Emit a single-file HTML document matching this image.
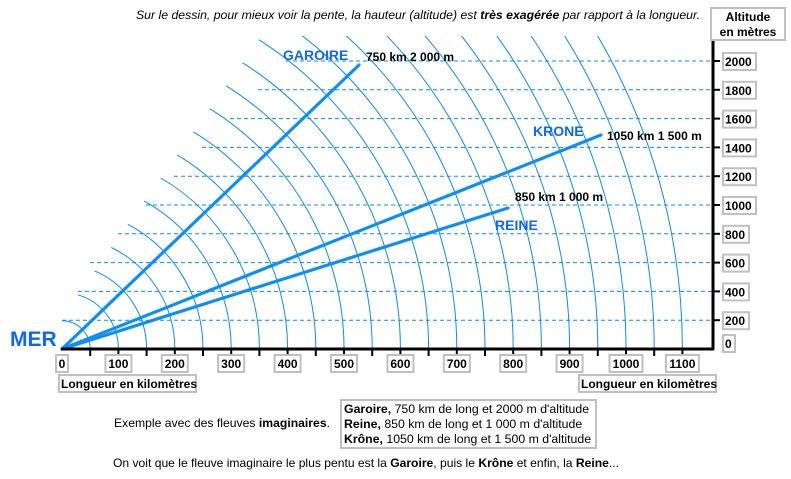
<!DOCTYPE html>
<html><head><meta charset="utf-8"><style>
body{margin:0;background:#fff;}
svg{display:block;font-family:"Liberation Sans",Arial,sans-serif;}
</style></head><body>
<svg id="s" width="791" height="479" xmlns="http://www.w3.org/2000/svg">
<defs><clipPath id="c"><rect x="0" y="36" width="712" height="320"/></clipPath></defs>
<g id="arcs" clip-path="url(#c)" fill="none" stroke="#0a8cf5" stroke-width="1"></g>
<g id="dash" stroke="#0a8cf5" stroke-width="1" stroke-dasharray="4,3"></g>
<g stroke="#0f8ff2" stroke-width="3.2" stroke-linecap="round">
<line x1="62" y1="349" x2="359" y2="65"/>
<line x1="62" y1="349" x2="601" y2="135"/>
<line x1="62" y1="349" x2="508" y2="208"/>
</g>
<g stroke="#000" stroke-width="3" fill="none">
<line x1="61" y1="349" x2="714" y2="349"/>
<line x1="713" y1="40" x2="713" y2="350"/>
</g>
<g id="ticks" stroke="#000" stroke-width="2"></g>
<g id="labels" font-size="12" font-weight="bold"></g>
<g font-weight="bold" font-size="14" fill="#1068f0">
<text x="283" y="60">GAROIRE</text>
<text x="533" y="136">KRONE</text>
<text x="495" y="230">REINE</text>
<text x="10" y="346" font-size="21">MER</text>
</g>
<g font-weight="bold" font-size="12" fill="#000">
<text x="366" y="61">750 km 2 000 m</text>
<text x="607" y="140">1050 km 1 500 m</text>
<text x="515" y="201">850 km 1 000 m</text>
</g>
<text x="136" y="19" font-size="12.2" font-style="italic" textLength="564" lengthAdjust="spacingAndGlyphs">Sur le dessin, pour mieux voir la pente, la hauteur (altitude)  est <tspan font-weight="bold">très exagérée</tspan> par rapport à la longueur.</text>
<rect x="711" y="8" width="74" height="32" fill="#fff" stroke="#c0c0c0" stroke-width="2"/>
<text x="748" y="21" font-size="12" font-weight="bold" text-anchor="middle">Altitude</text>
<text x="748" y="36" font-size="12" font-weight="bold" text-anchor="middle">en mètres</text>
<rect x="59" y="375" width="137" height="17" fill="#fff" stroke="#c0c0c0" stroke-width="2"/>
<text x="61" y="388" font-size="12" font-weight="bold">Longueur en kilomètres</text>
<rect x="579" y="375" width="137" height="17" fill="#fff" stroke="#c0c0c0" stroke-width="2"/>
<text x="581" y="388" font-size="12" font-weight="bold">Longueur en kilomètres</text>
<text x="114" y="427" font-size="12" textLength="216" lengthAdjust="spacingAndGlyphs">Exemple avec des fleuves <tspan font-weight="bold">imaginaires</tspan>.</text>
<rect x="341" y="400" width="255" height="48" fill="#fff" stroke="#c0c0c0" stroke-width="2"/>
<g font-size="12.3">
<text x="344" y="413"><tspan font-weight="bold">Garoire,</tspan> 750 km de long et 2000 m d'altitude</text>
<text x="344" y="428"><tspan font-weight="bold">Reine,</tspan> 850 km de long et  1 000 m d'altitude</text>
<text x="344" y="443"><tspan font-weight="bold">Krône,</tspan> 1050 km de long et  1 500 m d'altitude</text>
</g>
<text x="113" y="467" font-size="12" textLength="506" lengthAdjust="spacingAndGlyphs">On voit que le fleuve imaginaire le plus pentu est la <tspan font-weight="bold">Garoire</tspan>, puis le <tspan font-weight="bold">Krône</tspan> et enfin, la <tspan font-weight="bold">Reine</tspan>...</text>
</svg>
<script>
var NS="http://www.w3.org/2000/svg",ox=62,oy=349,u=28.2;
function el(p,t,a,txt){var e=document.createElementNS(NS,t);for(var k in a)e.setAttribute(k,a[k]);if(txt!=null)e.textContent=txt;document.getElementById(p).appendChild(e);return e;}
for(var k=1;k<=22;k++){var r=k*u;var px=44+17*k,py=342-24*k;var th=k==1?Math.PI/2:Math.atan2(oy-py,px-ox);
var ex=ox+r*Math.cos(th),ey=oy-r*Math.sin(th);
el("arcs","path",{d:"M"+(ox+r)+","+oy+" A"+r+","+r+" 0 0 0 "+ex.toFixed(1)+","+ey.toFixed(1)});}
for(var k=1;k<=10;k++){var y=oy-k*28.8;var sx=k==1?62:Math.max(62,62+28*(k-2)+(k==2?16:0));
el("dash","line",{x1:sx,y1:y,x2:712,y2:y});
el("ticks","line",{x1:713,y1:y,x2:720,y2:y});
var t=""+(k*200);var w=t.length*7+5;
el("labels","rect",{x:723,y:y-8,width:w,height:17,fill:"#fff",stroke:"#c0c0c0","stroke-width":2});
el("labels","text",{x:725,y:y+5},t);}
el("labels","rect",{x:723,y:335,width:12,height:17,fill:"#fff",stroke:"#c0c0c0","stroke-width":2});
el("labels","text",{x:725,y:348},"0");
for(var k=1;k<=22;k++){var x=ox+k*u;el("ticks","line",{x1:x,y1:349,x2:x,y2:356});}
for(var k=0;k<=11;k++){var x=ox+k*2*u;var t=""+(k*100);var w=t.length*7+5;
el("labels","rect",{x:x-w/2,y:355,width:w,height:17,fill:"#fff",stroke:"#c0c0c0","stroke-width":2});
el("labels","text",{x:x,y:368,"text-anchor":"middle"},t);}
</script>
</body></html>
